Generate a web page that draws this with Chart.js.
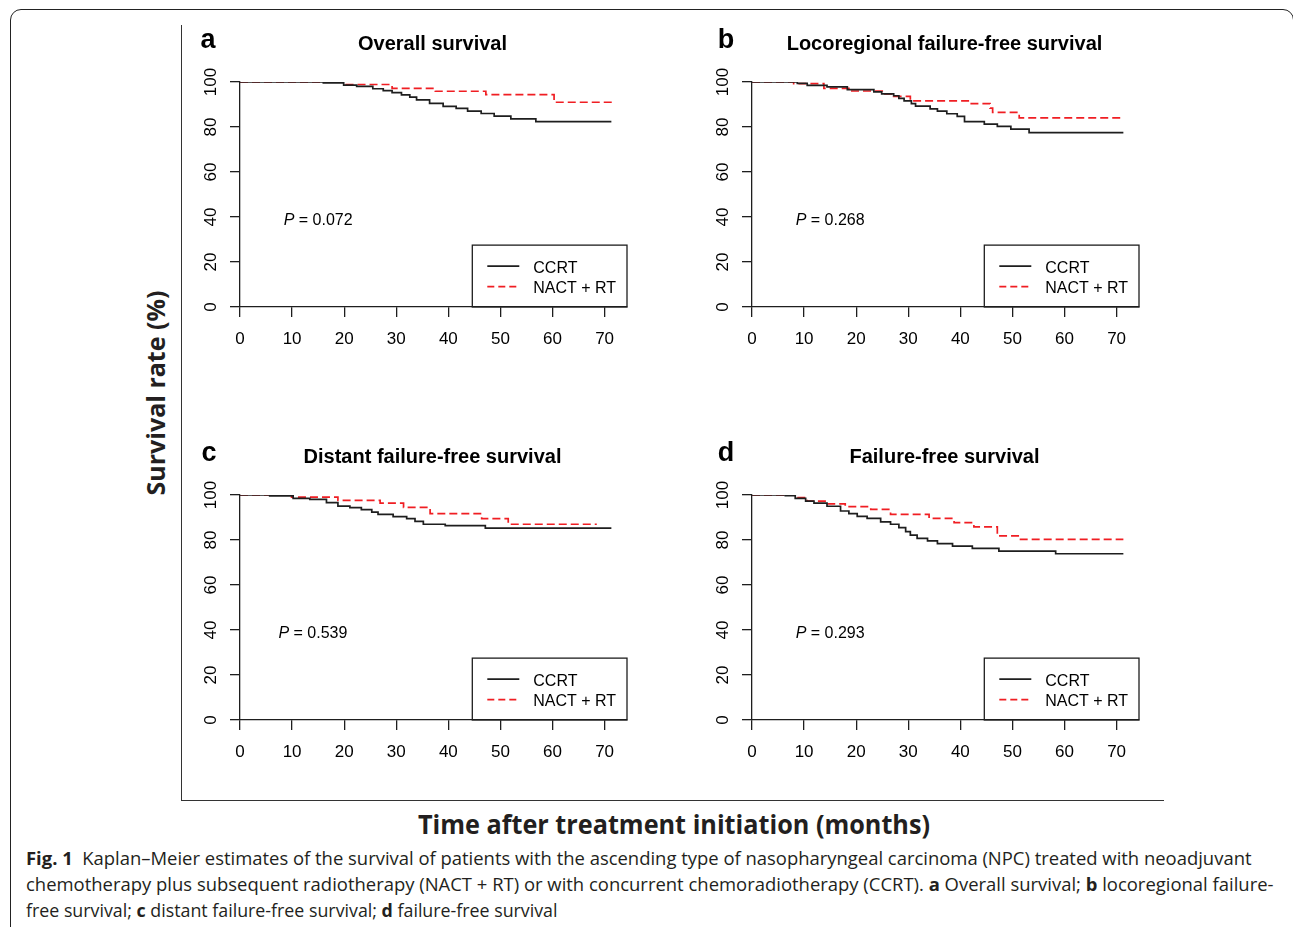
<!DOCTYPE html>
<html>
<head>
<meta charset="utf-8">
<script src="https://cdn.jsdelivr.net/npm/chart.js@4"></script>
<style>
  body { margin: 0; width: 1293px; height: 927px; overflow: hidden; background: #fff; position: relative; font-family: "Liberation Sans", Arial, sans-serif; }
  .card { position: absolute; left: 10px; top: 9px; width: 1284px; height: 1000px; border: 1.3px solid #222; border-radius: 11px; box-sizing: border-box; }
  .frame { position: absolute; left: 181px; top: 25px; width: 983px; height: 776px; border-left: 1.5px solid #333; border-bottom: 1.5px solid #333; box-sizing: border-box; }
  .panel { position: absolute; }
  .fit { position: absolute; white-space: nowrap; color: #231f20; font-family: "Open Sans", sans-serif; }
  .axis-title { font-weight: 700; }
  .caption { font-size: 17.5px; line-height: 20px; transform-origin: 0 50%; }
  .caption b { font-weight: 700; }
</style>
</head>
<body>
<div class="card"></div>
<div class="frame"></div>

<canvas class="panel" id="panel-a" width="460" height="345" style="left:190px;top:20px"></canvas>
<canvas class="panel" id="panel-b" width="460" height="345" style="left:702px;top:20px"></canvas>
<canvas class="panel" id="panel-c" width="460" height="345" style="left:190px;top:433px"></canvas>
<canvas class="panel" id="panel-d" width="460" height="345" style="left:702px;top:433px"></canvas>

<div class="fit axis-title" id="ylab" style="font-size:25px">Survival rate (%)</div>
<div class="fit axis-title" id="xlab" style="font-size:27px">Time after treatment initiation (months)</div>
<div class="fit caption" id="cap1"><b>Fig. 1</b>&nbsp; Kaplan–Meier estimates of the survival of patients with the ascending type of nasopharyngeal carcinoma (NPC) treated with neoadjuvant</div>
<div class="fit caption" id="cap2">chemotherapy plus subsequent radiotherapy (NACT + RT) or with concurrent chemoradiotherapy (CCRT). <b>a</b> Overall survival; <b>b</b> locoregional failure-</div>
<div class="fit caption" id="cap3">free survival; <b>c</b> distant failure-free survival; <b>d</b> failure-free survival</div>

<script>
const SERIES_NAMES = ["CCRT", "NACT + RT"];
const X_TICKS = [0, 10, 20, 30, 40, 50, 60, 70];
const Y_TICKS = [0, 20, 40, 60, 80, 100];
const X_MAX = 74.3;

// a: overall survival
const osCcrtMonths = [0, 16, 19.9, 22.4, 25.5, 27.5, 29.2, 31, 32.6, 33.9, 36.4, 39, 41.5, 43.7, 46.3, 48.8, 52, 56.8, 71.3];
const osCcrtRate   = [100, 99.6, 98.6, 98.1, 97, 96.2, 95.3, 94.3, 93.3, 92.1, 90.5, 89.2, 88.3, 87.1, 86, 84.8, 83.6, 82.4, 82.4];
const osNactMonths = [0, 20.4, 29.2, 37.5, 47.2, 60.3, 71.4];
const osNactRate   = [100, 98.9, 97.2, 95.9, 94.4, 91, 91];

// b: locoregional failure-free survival
const lrCcrtMonths = [0, 8.7, 10.6, 14.4, 18.3, 23.4, 24.9, 27.2, 28.2, 29.2, 30.6, 31.4, 34.2, 35.6, 37.4, 39.4, 40.8, 44.6, 47.1, 49.7, 53.2, 71.3];
const lrCcrtRate   = [100, 99.4, 98.5, 97.8, 96.6, 95.6, 94.7, 93.9, 92.7, 91.6, 90.4, 89.3, 88.1, 87.1, 85.9, 84.7, 82.4, 81.3, 80.3, 79.1, 77.5, 77.5];
const lrNactMonths = [0, 8.0, 13.8, 18.8, 25.0, 27.2, 30.4, 41.7, 45.7, 46.2, 51.3, 71.3];
const lrNactRate   = [100, 99.3, 97.2, 96.0, 94.7, 93.6, 91.6, 90.4, 88.4, 86.5, 84.1, 84.1];

// c: distant failure-free survival
const dmCcrtMonths = [0, 5.7, 10.2, 13.4, 16.6, 18.8, 21.1, 23.3, 25.3, 26.5, 29.4, 32.0, 33.6, 35.2, 39.4, 47.1, 71.3];
const dmCcrtRate   = [100, 99.6, 98.5, 98.1, 96.6, 95.1, 94.4, 93.5, 92.4, 91.4, 90.4, 89.5, 88.3, 87.0, 86.4, 85.3, 85.3];
const dmNactMonths = [0, 9.9, 18.8, 26.9, 31.4, 36.5, 46.4, 51.5, 68.5];
const dmNactRate   = [100, 99.1, 97.6, 96.4, 94.5, 91.7, 89.5, 87.0, 87.0];

// d: failure-free survival
const ffCcrtMonths = [0, 6.4, 8.3, 10.3, 11.9, 14.4, 17.0, 18.6, 20.2, 22.1, 24.7, 26.6, 28.2, 29.5, 30.4, 31.7, 33.7, 35.6, 38.5, 42.3, 47.4, 58.3, 71.3];
const ffCcrtRate   = [100, 99.7, 98.5, 97.3, 96.4, 95.0, 92.9, 91.7, 90.5, 89.6, 88.1, 87.0, 85.5, 83.7, 82.2, 80.7, 79.6, 78.4, 77.3, 76.3, 75.1, 73.9, 73.9];
const ffNactMonths = [0, 8.7, 10.6, 14.4, 17.9, 22.8, 26.6, 34.0, 38.8, 42.6, 47.1, 51.3, 71.3];
const ffNactRate   = [100, 98.8, 97.3, 96.1, 94.8, 93.6, 91.4, 89.6, 87.7, 85.8, 81.8, 80.3, 80.3];

const PANELS = [
  { id: "panel-a", letter: "a", letterDx: -32, title: "Overall survival", p: "0.072", pX: 15,
    ccrt: [osCcrtMonths, osCcrtRate], nact: [osNactMonths, osNactRate] },
  { id: "panel-b", letter: "b", letterDx: -26, title: "Locoregional failure-free survival", p: "0.268", pX: 15,
    ccrt: [lrCcrtMonths, lrCcrtRate], nact: [lrNactMonths, lrNactRate] },
  { id: "panel-c", letter: "c", letterDx: -31, title: "Distant failure-free survival", p: "0.539", pX: 14,
    ccrt: [dmCcrtMonths, dmCcrtRate], nact: [dmNactMonths, dmNactRate] },
  { id: "panel-d", letter: "d", letterDx: -26, title: "Failure-free survival", p: "0.293", pX: 15,
    ccrt: [ffCcrtMonths, ffCcrtRate], nact: [ffNactMonths, ffNactRate] },
];

const INK = "#1e1e1e";
const RED = "#f01e23";
const FONT = '"Liberation Sans", Arial, sans-serif';

function toPoints(months, rates) {
  return months.map((m, i) => ({ x: m, y: rates[i] }));
}

// letter, title, P value and the boxed legend of each panel
const panelDecor = {
  id: "panelDecor",
  afterDraw(chart, args, opts) {
    const { ctx, chartArea, scales: { x, y } } = chart;
    ctx.save();
    ctx.fillStyle = "#000";
    ctx.textAlign = "center";
    ctx.textBaseline = "alphabetic";
    ctx.font = `bold 27px ${FONT}`;
    ctx.fillText(opts.letter, chartArea.left + opts.letterDx, chartArea.top - 34);
    ctx.font = `bold 20px ${FONT}`;
    ctx.fillText(opts.title, (chartArea.left + chartArea.right) / 2 - 1, chartArea.top - 32);

    // P = ...
    ctx.textBaseline = "middle";
    ctx.textAlign = "left";
    ctx.font = `italic 16px ${FONT}`;
    const pw = ctx.measureText("P").width;
    ctx.font = `16px ${FONT}`;
    const rest = " = " + opts.p;
    const rw = ctx.measureText(rest).width;
    const px = x.getPixelForValue(opts.pX) - (pw + rw) / 2;
    const py = y.getPixelForValue(38.5);
    ctx.font = `italic 16px ${FONT}`;
    ctx.fillText("P", px, py);
    ctx.font = `16px ${FONT}`;
    ctx.fillText(rest, px + pw, py);

    // legend box
    const bl = x.getPixelForValue(44.6);
    const bt = y.getPixelForValue(27.5);
    ctx.strokeStyle = INK;
    ctx.lineWidth = 1.3;
    ctx.strokeRect(bl, bt, chartArea.right - bl, chartArea.bottom - bt);
    const rows = [[INK, [], 21], [RED, [7, 4], 41.5]];
    rows.forEach(([color, dash, dy], i) => {
      ctx.beginPath();
      ctx.setLineDash(dash);
      ctx.strokeStyle = color;
      ctx.lineWidth = 1.6;
      ctx.moveTo(bl + 15, bt + dy);
      ctx.lineTo(bl + 47, bt + dy);
      ctx.stroke();
      ctx.setLineDash([]);
      ctx.fillStyle = "#000";
      ctx.font = `16px ${FONT}`;
      ctx.fillText(SERIES_NAMES[i], bl + 61, bt + dy + 2);
    });
    ctx.restore();
  }
};

function createPanel(panel) {
  const ctx = document.getElementById(panel.id).getContext("2d");
  const axisGrid = { drawOnChartArea: false, drawTicks: true, tickLength: 10, color: INK, lineWidth: 1.3 };
  const axisBorder = { display: true, color: INK, width: 1.3 };

  return new Chart(ctx, {
    type: "line",
    data: {
      datasets: [
        { label: SERIES_NAMES[0], data: toPoints(...panel.ccrt), borderColor: INK, borderWidth: 1.7,
          stepped: true, pointRadius: 0, fill: false },
        { label: SERIES_NAMES[1], data: toPoints(...panel.nact), borderColor: RED, borderWidth: 1.7,
          borderDash: [8, 4], stepped: true, pointRadius: 0, fill: false },
      ]
    },
    options: {
      responsive: false,
      animation: false,
      devicePixelRatio: 1,
      layout: { padding: { left: 0, top: 62, right: 23, bottom: 13 } },
      plugins: {
        legend: { display: false },
        tooltip: { enabled: false },
        panelDecor: { letter: panel.letter, letterDx: panel.letterDx, title: panel.title, p: panel.p, pX: panel.pX },
      },
      scales: {
        x: {
          type: "linear",
          min: 0,
          max: X_MAX,
          grid: axisGrid,
          border: axisBorder,
          afterBuildTicks(scale) { scale.ticks = X_TICKS.map(v => ({ value: v })); },
          ticks: { color: "#000", font: { family: FONT, size: 17 }, padding: 12, maxRotation: 0, autoSkip: false },
          afterFit(scale) { scale.height = 45; },
        },
        y: {
          type: "linear",
          min: 0,
          max: 100,
          grid: axisGrid,
          border: axisBorder,
          afterBuildTicks(scale) { scale.ticks = Y_TICKS.map(v => ({ value: v })); },
          ticks: { color: "#000", font: { family: FONT, size: 17 }, padding: 5, minRotation: 90, maxRotation: 90, crossAlign: "center" },
          afterFit(scale) { scale.width = 50; },
        }
      }
    },
    plugins: [panelDecor]
  });
}

function placeFit(id, cx, cy, width, rotate) {
  const el = document.getElementById(id);
  const k = width / el.offsetWidth;
  el.style.left = cx + "px";
  el.style.top = cy + "px";
  el.style.transform = `translate(-50%, -50%) rotate(${rotate}deg) scaleX(${k})`;
}

function placeLine(id, left, cy, width) {
  const el = document.getElementById(id);
  const k = width / el.offsetWidth;
  el.style.left = left + "px";
  el.style.top = (cy - el.offsetHeight / 2) + "px";
  el.style.transform = `scaleX(${k})`;
}

PANELS.forEach(createPanel);
placeFit("ylab", 155, 393, 205, -90);
placeFit("xlab", 674, 823, 512, 0);
placeLine("cap1", 26, 858, 1225);
placeLine("cap2", 26, 884, 1247);
placeLine("cap3", 26, 910, 532);
</script>
</body>
</html>
